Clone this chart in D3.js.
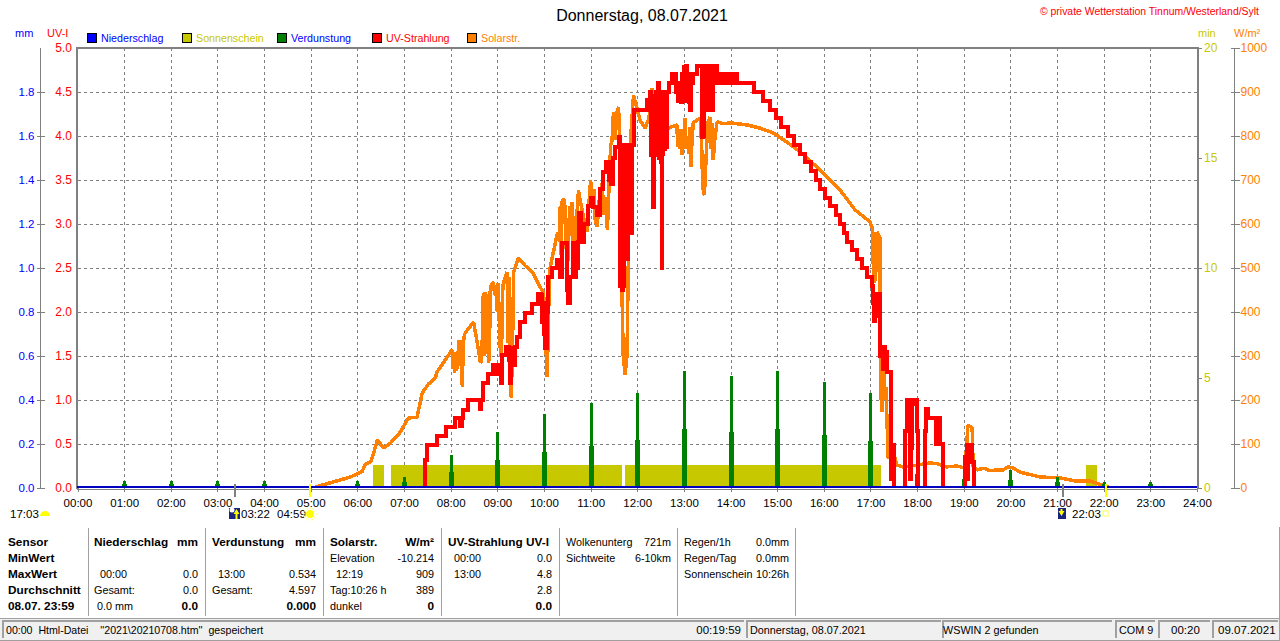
<!DOCTYPE html>
<html><head><meta charset="utf-8">
<script src="https://cdn.jsdelivr.net/npm/d3@7/dist/d3.min.js"></script>
<style>
html,body{margin:0;padding:0;background:#fff;overflow:hidden}
svg{display:block}
text{font-family:"Liberation Sans",Arial,sans-serif;font-size:10.8px;fill:#000}
.axis path{display:none}
.axis text{font-size:11.5px}
</style></head><body>
<svg id="c" width="1280" height="641"></svg>
<script>
const hourLabels = d3.range(0,25).map(h=>String(h).padStart(2,"0")+":00");
const mmTicks = [0,0.2,0.4,0.6,0.8,1.0,1.2,1.4,1.6,1.8];
const uvTicks = [0,0.5,1,1.5,2,2.5,3,3.5,4,4.5,5];
const minTicks = [0,5,10,15,20];
const solarTicks = d3.range(0,1001,100);

// hour of day, W/m²
const solarSeries = [[0,0],[5.05,0],[5.12,3],[5.49,14],[5.85,25],[6.10,37],[6.17,54],[6.29,60],[6.35,80],[6.43,109],[6.56,91],[6.71,102],[6.92,127],[7.09,159],[7.28,161],[7.39,216],[7.52,236],[7.67,250],[7.71,264],[7.93,298],[8.03,314],[8.05,270],[8.07,300],[8.08,262],[8.10,310],[8.11,265],[8.13,310],[8.15,270],[8.17,336],[8.19,290],[8.21,336],[8.23,280],[8.25,230],[8.27,330],[8.30,350],[8.33,355],[8.49,377],[8.57,330],[8.64,284],[8.66,290],[8.68,343],[8.70,443],[8.72,300],[8.74,445],[8.76,350],[8.78,440],[8.81,284],[8.83,300],[8.85,457],[8.92,468],[8.94,440],[8.97,450],[9.0,400],[9.02,465],[9.05,350],[9.07,300],[9.09,298],[9.11,440],[9.13,466],[9.21,491],[9.23,330],[9.25,480],[9.27,290],[9.30,205],[9.33,350],[9.35,491],[9.45,523],[9.60,505],[9.75,491],[9.86,468],[9.99,443],[10.03,380],[10.05,300],[10.07,252],[10.09,350],[10.12,495],[10.29,580],[10.33,560],[10.35,640],[10.37,530],[10.39,650],[10.42,659],[10.45,640],[10.47,560],[10.50,500],[10.52,530],[10.55,640],[10.57,620],[10.60,650],[10.63,520],[10.65,502],[10.67,610],[10.70,620],[10.72,640],[10.74,677],[10.80,640],[10.88,600],[10.93,582],[10.96,640],[11.0,700],[11.03,650],[11.07,680],[11.10,610],[11.14,593],[11.18,650],[11.25,693],[11.28,620],[11.32,660],[11.36,586],[11.40,700],[11.43,780],[11.46,790],[11.49,855],[11.52,790],[11.55,850],[11.60,866],[11.63,760],[11.65,700],[11.68,400],[11.70,300],[11.74,257],[11.78,300],[11.82,600],[11.85,780],[11.92,893],[12.06,836],[12.17,818],[12.25,840],[12.32,909],[12.40,860],[12.55,830],[12.67,818],[12.85,825],[12.87,775],[12.90,810],[12.92,770],[12.94,815],[12.96,757],[12.98,800],[13.00,780],[13.02,840],[13.05,770],[13.08,800],[13.11,760],[13.13,820],[13.15,730],[13.17,780],[13.20,830],[13.35,841],[13.38,780],[13.40,700],[13.42,670],[13.44,666],[13.48,760],[13.51,830],[13.56,843],[13.58,770],[13.60,830],[13.63,745],[13.66,790],[13.71,832],[13.85,828],[13.99,830],[14.36,825],[14.63,818],[14.91,807],[15.21,786],[15.49,764],[15.92,723],[16.35,677],[16.67,632],[16.99,605],[17.04,590],[17.06,510],[17.08,466],[17.09,582],[17.10,470],[17.11,582],[17.12,490],[17.14,582],[17.20,570],[17.22,200],[17.24,260],[17.25,173],[17.27,260],[17.29,275],[17.31,200],[17.33,230],[17.38,68],[17.49,80],[17.57,52],[17.7,48],[18.0,52],[18.28,57],[18.43,55],[18.64,48],[18.86,50],[19.03,45],[19.09,143],[19.18,136],[19.20,48],[19.28,41],[19.42,45],[19.55,40],[19.84,41],[19.95,48],[20.05,46],[20.21,36],[20.63,25],[21.06,23],[21.39,16],[21.7,16],[22.03,5],[22.13,0],[24,0]];

// hour of day, UV index (level held until the next reading)
const uvSeries = [[0,0],[7.46,0.32],[7.5,0.49],[7.71,0.59],[7.91,0.69],[8.1,0.8],[8.2,0.7],[8.25,0.8],[8.27,0.89],[8.38,1.0],[8.62,0.9],[8.65,1.0],[8.7,1.19],[8.81,1.3],[8.91,1.4],[8.98,1.3],[9.0,1.4],[9.03,1.3],[9.05,1.4],[9.07,1.19],[9.10,1.51],[9.19,1.6],[9.25,1.45],[9.27,1.19],[9.30,1.59],[9.34,1.4],[9.38,1.6],[9.43,1.72],[9.49,1.89],[9.6,1.99],[9.75,2.09],[9.88,2.2],[9.93,2.19],[9.95,1.89],[9.98,2.1],[10.0,1.75],[10.03,1.59],[10.06,2.0],[10.09,2.4],[10.18,2.5],[10.29,2.59],[10.34,2.4],[10.38,2.78],[10.46,2.78],[10.49,2.25],[10.52,2.1],[10.56,2.4],[10.62,2.78],[10.65,2.4],[10.68,2.5],[10.72,2.8],[10.76,3.12],[10.80,2.8],[10.86,3.0],[10.94,3.2],[11.0,3.3],[11.06,3.19],[11.14,3.1],[11.2,3.4],[11.27,3.59],[11.33,3.7],[11.4,3.5],[11.43,3.45],[11.47,3.75],[11.53,3.88],[11.6,3.99],[11.62,3.39],[11.64,2.3],[11.66,3.3],[11.67,2.25],[11.69,3.3],[11.70,2.3],[11.72,3.9],[11.74,2.6],[11.76,3.9],[11.78,2.6],[11.80,3.9],[11.82,2.9],[11.84,3.9],[11.86,2.9],[11.88,3.9],[11.92,4.3],[12.1,4.3],[12.2,4.41],[12.28,4.5],[12.30,3.78],[12.32,4.45],[12.33,3.19],[12.35,3.78],[12.37,4.4],[12.39,3.78],[12.41,4.5],[12.43,3.78],[12.45,4.6],[12.47,3.75],[12.49,4.0],[12.50,3.7],[12.52,2.5],[12.54,3.8],[12.56,4.5],[12.58,3.85],[12.60,4.5],[12.62,3.88],[12.64,4.5],[12.69,4.6],[12.75,4.71],[12.84,4.5],[12.88,4.4],[12.90,4.6],[12.93,4.39],[12.96,4.7],[12.98,4.4],[13.0,4.78],[13.02,4.5],[13.05,4.8],[13.07,4.4],[13.09,4.7],[13.11,4.39],[13.13,4.3],[13.15,4.6],[13.2,4.7],[13.28,4.8],[13.38,4.5],[13.39,3.99],[13.41,4.8],[13.42,4.0],[13.44,4.8],[13.46,4.6],[13.48,4.8],[13.50,4.3],[13.52,4.8],[13.54,4.5],[13.56,4.8],[13.58,4.4],[13.60,4.3],[13.62,4.6],[13.65,4.8],[13.72,4.6],[13.76,4.71],[13.78,4.6],[13.85,4.71],[13.88,4.6],[13.95,4.71],[13.98,4.6],[14.03,4.7],[14.06,4.6],[14.1,4.7],[14.14,4.6],[14.5,4.5],[14.7,4.4],[14.84,4.3],[14.97,4.2],[15.09,4.1],[15.23,4.0],[15.35,3.9],[15.48,3.8],[15.6,3.7],[15.72,3.6],[15.83,3.5],[15.92,3.4],[16.03,3.3],[16.14,3.2],[16.26,3.1],[16.35,3.0],[16.44,2.9],[16.5,2.8],[16.6,2.7],[16.71,2.6],[16.82,2.5],[16.93,2.4],[17.04,2.3],[17.06,2.1],[17.08,1.9],[17.10,2.19],[17.12,1.95],[17.14,2.2],[17.16,2.0],[17.18,2.2],[17.20,1.5],[17.26,1.35],[17.27,1.6],[17.31,1.4],[17.33,1.55],[17.36,1.32],[17.43,1.19],[17.45,0.1],[17.47,0.49],[17.51,0],[17.74,0.65],[17.78,1],[17.84,0.1],[17.87,0.45],[17.9,0.95],[17.92,1],[18.0,0.65],[18.02,0],[18.16,0.65],[18.2,0.9],[18.23,0.8],[18.40,0.5],[18.45,0.8],[18.5,0.5],[18.55,0],[19.02,0.35],[19.06,0.49],[19.08,0.1],[19.1,0.49],[19.17,0.3],[19.21,0],[24,0]];

const sunStart = [6.33,6.72,11.73];
const sunEnd = [6.58,11.67,17.22];
const sunMinutes = [1.05,1.05,1.05];
const sunLateStart = [21.62];
const sunLateEnd = [21.85];
const sunLateMinutes = [1.05];

const evapHours = [1,2,3,4,6,7,8,9,10,11,12,13,14,15,16,17,18,19,20,21,22,23];
const evapPeak = [.032,.032,.032,.032,.032,.05,.15,.255,.336,.386,.433,.534,.509,.532,.482,.432,.127,.077,.082,.05,.027,.027];
const evapBase = [.018,.018,.018,.018,.018,.027,.073,.127,.164,.19,.218,.268,.255,.268,.241,.214,.064,.041,.036,.027,.018,.018];

const legendNames = ["Niederschlag","Sonnenschein","Verdunstung","UV-Strahlung","Solarstr."];
const legendFills = ["#0000ff","#c8c800","#008000","#ff0000","#ff8000"];
const legendInk = ["#0000ff","#c8c800","#0000ff","#ff0000","#ff8000"];

const sensorLabels = ["Sensor","MinWert","MaxWert","Durchschnitt","08.07. 23:59"];
const rainCells = [["Niederschlag","mm"],["",""],["00:00","0.0"],["Gesamt:","0.0"],["0.0 mm","0.0"]];
const evapCells = [["Verdunstung","mm"],["",""],["13:00","0.534"],["Gesamt:","4.597"],["","0.000"]];
const solarCells = [["Solarstr.","W/m²"],["Elevation","-10.214"],["12:19","909"],["Tag:10:26 h","389"],["dunkel","0"]];
const uvCells = [["UV-Strahlung UV-I",""],["00:00","0.0"],["13:00","4.8"],["","2.8"],["","0.0"]];
const cloudCells = [["Wolkenunterg","721m"],["Sichtweite","6-10km"]];
const rainSunCells = [["Regen/1h","0.0mm"],["Regen/Tag","0.0mm"],["Sonnenschein","10:26h"]];

const statusTexts = ["00:00  Html-Datei    ''2021\\20210708.htm''  gespeichert","00:19:59","Donnerstag, 08.07.2021","WSWIN 2 gefunden","COM 9","00:20","09.07.2021"];

const svg = d3.select("#c");
const X0=77.5,X1=1197,Y0=488,Y1=48;
const x = d3.scaleLinear().domain([0,24]).range([X0,X1]);
const yUV = d3.scaleLinear().domain([0,5]).range([Y0,Y1]);
const yMM = d3.scaleLinear().domain([0,2]).range([Y0,Y1]);
const yMin = d3.scaleLinear().domain([0,20]).range([Y0,Y1]);
const ySol = d3.scaleLinear().domain([0,1000]).range([Y0,Y1]);
const GRAY="#808080", YEL="#c8c800", ORA="#ff8000";

svg.append("clipPath").attr("id","plotClip").append("rect").attr("x",X0).attr("y",Y1).attr("width",X1-X0).attr("height",Y0-Y1-2);

// grid
const grid = svg.append("g").attr("stroke",GRAY).attr("stroke-dasharray","3 3").attr("shape-rendering","crispEdges");
grid.selectAll(".v").data(d3.range(1,24)).join("line").attr("x1",d=>Math.round(x(d))).attr("x2",d=>Math.round(x(d))).attr("y1",Y1).attr("y2",Y0);
grid.selectAll(".h").data(uvTicks.slice(1,-1)).join("line").attr("x1",X0).attr("x2",X1).attr("y1",d=>Math.round(yUV(d))+.5).attr("y2",d=>Math.round(yUV(d))+.5);

// sunshine
const sun = svg.append("g").attr("fill",YEL).attr("shape-rendering","crispEdges");
sunStart.concat(sunLateStart).forEach((s,i)=>{
  const e=sunEnd.concat(sunLateEnd)[i], v=sunMinutes.concat(sunLateMinutes)[i];
  sun.append("rect").attr("x",x(s)).attr("width",x(e)-x(s)).attr("y",yMin(v)).attr("height",Y0-yMin(v));
});

// solar
svg.append("path").datum(solarSeries).attr("clip-path","url(#plotClip)").attr("fill","none").attr("stroke",ORA).attr("stroke-width",3.5).attr("stroke-linejoin","bevel").attr("shape-rendering","crispEdges")
  .attr("d",d3.line().x(d=>x(d[0])).y(d=>ySol(d[1])));

// evaporation
const ev = svg.append("g").attr("fill","#008000").attr("shape-rendering","crispEdges");
ev.selectAll(".p").data(evapHours).join("rect").attr("x",d=>Math.round(x(d))-1.5).attr("width",3).attr("y",(d,i)=>yMM(evapPeak[i])).attr("height",(d,i)=>Y0-yMM(evapPeak[i]));
ev.selectAll(".b").data(evapHours).join("rect").attr("x",d=>Math.round(x(d))-2.5).attr("width",5).attr("y",(d,i)=>yMM(evapBase[i])).attr("height",(d,i)=>Y0-yMM(evapBase[i]));

// UV
svg.append("path").datum(uvSeries).attr("clip-path","url(#plotClip)").attr("fill","none").attr("stroke","#ff0000").attr("stroke-width",4).attr("stroke-linejoin","miter").attr("shape-rendering","crispEdges")
  .attr("d",d3.line().curve(d3.curveStepAfter).x(d=>x(d[0])).y(d=>yUV(d[1])));

// frame
const frame = svg.append("g").attr("stroke",GRAY).attr("fill","none").attr("shape-rendering","crispEdges");
frame.append("path").attr("stroke-width",2).attr("d",`M77 489V48H1198V489`);
frame.append("line").attr("x1",77).attr("x2",1198).attr("y1",489.5).attr("y2",489.5).attr("stroke-width",1);
svg.append("line").attr("x1",77).attr("x2",1197).attr("y1",487).attr("y2",487).attr("stroke","#0000c0").attr("stroke-width",2);

function styleAxis(g,color){
  g.attr("class","axis").attr("font-size",null).attr("font-family",null);
  g.selectAll("line").attr("stroke",GRAY).attr("shape-rendering","crispEdges");
  g.selectAll("text").style("fill",color);
}
// x axis
const gx = svg.append("g").attr("transform",`translate(0,${Y0})`)
  .call(d3.axisBottom(x).tickValues(d3.range(0,25)).tickFormat(d=>hourLabels[d]).tickSize(4).tickPadding(7));
styleAxis(gx,"#000");

// UV axis
const gU = svg.append("g").attr("transform","translate(77,0)")
  .call(d3.axisLeft(yUV).tickValues(uvTicks).tickFormat(d3.format(".1f")).tickSize(0).tickPadding(5));
styleAxis(gU,"#ff0000");
gU.selectAll("text").style("font-size","12px");
// mm axis
svg.append("line").attr("x1",40.5).attr("x2",40.5).attr("y1",Y1).attr("y2",Y0).attr("stroke",GRAY).attr("shape-rendering","crispEdges");
const gM = svg.append("g").attr("transform","translate(40.5,0)")
  .call(d3.axisLeft(yMM).tickValues(mmTicks).tickFormat(d3.format(".1f")).tickSize(4).tickPadding(2));
styleAxis(gM,"#0000ff");
gM.selectAll("line").attr("x1",4).attr("x2",-4);
// min axis
const gN = svg.append("g").attr("transform","translate(1198,0)")
  .call(d3.axisRight(yMin).tickValues(minTicks).tickFormat(d3.format("d")).tickSize(4).tickPadding(2));
styleAxis(gN,YEL);
gN.selectAll("text").style("font-size","12px");
// solar axis
svg.append("line").attr("x1",1234.5).attr("x2",1234.5).attr("y1",Y1).attr("y2",Y0).attr("stroke",GRAY).attr("shape-rendering","crispEdges");
const gS = svg.append("g").attr("transform","translate(1234.5,0)")
  .call(d3.axisRight(ySol).tickValues(solarTicks).tickFormat(d3.format("d")).tickSize(4).tickPadding(2));
styleAxis(gS,ORA);
gS.selectAll("line").attr("x1",-4).attr("x2",5);
gS.selectAll("text").style("font-size","12px");

function label(px,py,s,opt={}){
  const t=svg.append("text").attr("x",px).attr("y",py).attr("dy","0.35em").text(s);
  if(opt.anchor)t.attr("text-anchor",opt.anchor);
  if(opt.color)t.style("fill",opt.color);
  if(opt.bold)t.style("font-weight","bold").style("font-size","11.8px");
  if(opt.size)t.style("font-size",opt.size+"px");
  t.style("white-space","pre");
  return t;
}
// headers
label(642,15,"Donnerstag, 08.07.2021",{anchor:"middle",size:16});
label(1259,11,"© private Wetterstation Tinnum/Westerland/Sylt",{anchor:"end",color:"#ff0000",size:10.45});
label(15,33,"mm",{color:"#0000ff",size:11});
label(47,33,"UV-I",{color:"#ff0000",size:11});
label(1198,33,"min",{color:YEL,size:11});
label(1234,33,"W/m²",{color:ORA,size:11});
legendNames.forEach((n,i)=>{
  const lx=87+i*95;
  svg.append("rect").attr("x",lx+.5).attr("y",33.5).attr("width",9).attr("height",9).attr("fill",legendFills[i]).attr("stroke","#000").attr("shape-rendering","crispEdges");
  label(lx+14,38,n,{color:legendInk[i],size:10.7});
});

// day markers
const dayMarks=[[3.37,GRAY],[4.98,"#ffff00"],[21.13,GRAY],[22.05,"#ffff00"]];
dayMarks.forEach(([h,c])=>svg.append("rect").attr("x",Math.round(x(h))-1).attr("y",484).attr("width",2).attr("height",13).attr("fill",c));
label(10,513.5,"17:03",{size:11.5});
label(241,513.5,"03:22",{size:11.5});
label(277,513.5,"04:59",{size:11.5});
label(1072,513.5,"22:03",{size:11.5});
// icons
svg.append("path").attr("d","M40 516a5 5 0 0 1 5-5 5 5 0 0 1 5 5z").attr("fill","#ffff00");
svg.append("rect").attr("x",229).attr("y",508).attr("width",11).attr("height",11).attr("fill","#1a237e");
svg.append("circle").attr("cx",232).attr("cy",510).attr("r",2.5).attr("fill","#fff");
svg.append("path").attr("d","M236.5 509l3 5h-2v5h-2v-5h-2z").attr("fill","#ffff00");
svg.append("circle").attr("cx",310).attr("cy",514).attr("r",4).attr("fill","#ffff00");
svg.append("circle").attr("cx",310).attr("cy",514).attr("r",6).attr("fill","none").attr("stroke","#ffff99").attr("stroke-width",1.5).attr("stroke-dasharray","1.5 1.5");
svg.append("rect").attr("x",1058).attr("y",508).attr("width",8).attr("height",11).attr("fill","#1a237e");
svg.append("path").attr("d","M1061.5 516l-3-5h2v-2h2v2h2z").attr("fill","#ffff00");
svg.append("rect").attr("x",1103).attr("y",511).attr("width",5).attr("height",5).attr("fill","none").attr("stroke","#ffff66").attr("stroke-width",1.2);

// table
const rowY=[542,558,574,590,606];
sensorLabels.forEach((s,i)=>label(8,rowY[i],s,{bold:true}));
function table(cells,lx,rx,indentRows,boldFrame){
  cells.forEach((c,i)=>{
    const head=i===0&&boldFrame;
    const ind=(indentRows[i]||0);
    if(c[0])label(lx+ind,rowY[i],c[0],{bold:head});
    if(c[1])label(rx,rowY[i],c[1],{anchor:"end",bold:head||(boldFrame&&i===4)});
  });
}
table(rainCells,94,198,{2:6,4:3},true);
table(evapCells,212,316,{2:6},true);
table(solarCells,330,434,{2:6},true);
table(uvCells,448,552,{1:6,2:6},true);
table(cloudCells,566,671,{},false);
table(rainSunCells,684,789,{},false);
[88,205,323,441,559,677,795].forEach(px=>svg.append("line").attr("x1",px+.5).attr("x2",px+.5).attr("y1",528).attr("y2",616).attr("stroke","#a0a0a0").attr("stroke-width",1).attr("shape-rendering","crispEdges"));

// status bar
svg.append("rect").attr("x",0).attr("y",618).attr("width",1280).attr("height",23).attr("fill","#f0f0f0");
svg.append("line").attr("x1",0).attr("x2",1280).attr("y1",618).attr("y2",618).attr("stroke","#a0a0a0").attr("shape-rendering","crispEdges");
svg.append("line").attr("x1",0).attr("x2",1280).attr("y1",640).attr("y2",640).attr("stroke","#a0a0a0").attr("shape-rendering","crispEdges");
svg.append("line").attr("x1",1279.5).attr("x2",1279.5).attr("y1",527).attr("y2",640).attr("stroke","#a0a0a0").attr("shape-rendering","crispEdges");
[[2,744],[746,941],[942,1112],[1115,1155],[1158,1210],[1212,1278]].forEach(([a,b])=>{
  svg.append("path").attr("d",`M${a+.5} 638V621H${b}`).attr("fill","none").attr("stroke","#a0a0a0").attr("stroke-width",2).attr("shape-rendering","crispEdges");
});
label(6,630,statusTexts[0],{size:10.6});
label(741,630,statusTexts[1],{anchor:"end",size:11.5});
label(750,630,statusTexts[2]);
label(943,630,statusTexts[3]);
label(1119,630,statusTexts[4]);
label(1171,630,statusTexts[5],{size:11.5});
label(1218,630,statusTexts[6],{size:11.5});
</script></body></html>
